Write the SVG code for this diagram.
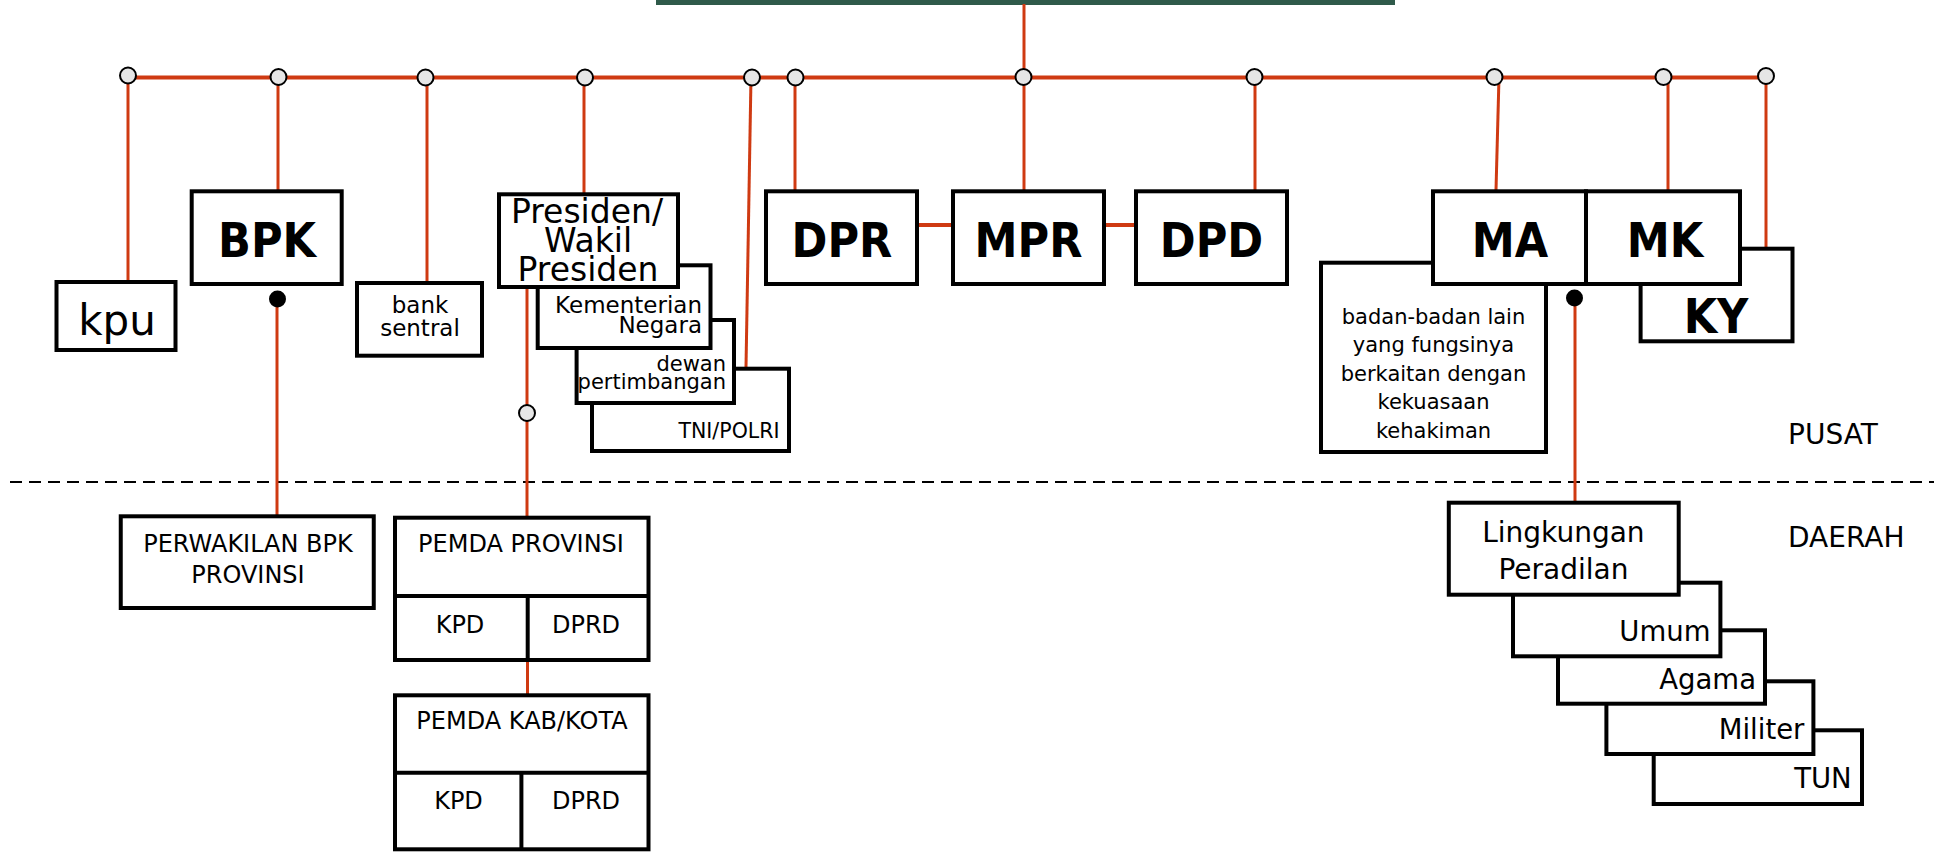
<svg xmlns="http://www.w3.org/2000/svg" width="1934" height="852" viewBox="0 0 1934 852">
<style>
.box{fill:#fff;stroke:#000;stroke-width:4}
.ln{stroke:#CF3A12;stroke-width:3;fill:none}
.hl{stroke:#CF3A12;stroke-width:4;fill:none}
.oc{fill:#E6E6E6;stroke:#000;stroke-width:2}
.fc{fill:#000}
.dv{stroke:#000;stroke-width:4}
text{font-family:"DejaVu Sans",Verdana,sans-serif;fill:#000}
.b{font-family:"DejaVu Sans Condensed","DejaVu Sans",sans-serif;font-weight:bold;font-size:48px;text-anchor:middle}
.c{text-anchor:middle}
.e{text-anchor:end}
</style>
<rect x="0" y="0" width="1934" height="852" fill="#fff"/>
<rect id="top-bar" x="656" y="-10" width="739" height="15" fill="#2F5A4A"/>
<line x1="10" y1="482" x2="1934" y2="482" stroke="#000" stroke-width="2" stroke-dasharray="12 7"/>
<g id="connectors">
<line class="hl" x1="128" y1="77.5" x2="1766" y2="77.5"/>
<line class="ln" x1="1024" y1="4" x2="1024" y2="190"/>
<line class="ln" x1="128" y1="77" x2="128" y2="281"/>
<line class="ln" x1="278" y1="77" x2="278" y2="190"/>
<line class="ln" x1="427" y1="77" x2="427" y2="282"/>
<line class="ln" x1="584" y1="77" x2="584" y2="193"/>
<line class="ln" x1="751" y1="77" x2="746" y2="367"/>
<line class="ln" x1="795" y1="77" x2="795" y2="190"/>
<line class="ln" x1="1255" y1="77" x2="1255" y2="190"/>
<line class="ln" x1="1499" y1="77" x2="1496" y2="190"/>
<line class="ln" x1="1668" y1="77" x2="1668" y2="190"/>
<line class="ln" x1="1766" y1="77" x2="1766" y2="248"/>
<line class="hl" x1="919" y1="225" x2="951" y2="225"/>
<line class="hl" x1="1106" y1="225" x2="1134" y2="225"/>
<line class="ln" x1="277" y1="299" x2="277" y2="515"/>
<line class="ln" x1="527" y1="289" x2="527" y2="516"/>
<line class="ln" x1="527.5" y1="662" x2="527.5" y2="694"/>
<line class="ln" x1="1575" y1="298" x2="1575" y2="501"/>
<circle class="oc" cx="128" cy="75.5" r="8"/>
<circle class="oc" cx="278.5" cy="77" r="8"/>
<circle class="oc" cx="425.5" cy="77.5" r="8"/>
<circle class="oc" cx="585" cy="77.5" r="8"/>
<circle class="oc" cx="752" cy="77.5" r="8"/>
<circle class="oc" cx="795.5" cy="77.5" r="8"/>
<circle class="oc" cx="1023.5" cy="77" r="8"/>
<circle class="oc" cx="1254.5" cy="77" r="8"/>
<circle class="oc" cx="1494.5" cy="77" r="8"/>
<circle class="oc" cx="1663.5" cy="77" r="8"/>
<circle class="oc" cx="1766" cy="76" r="8"/>
<circle class="oc" cx="527" cy="413" r="8"/>
<circle class="fc" cx="277.5" cy="299" r="8.5"/>
<circle class="fc" cx="1574.5" cy="298" r="8.5"/>
</g>
<g id="kpu"><rect class="box" x="56.5" y="282" width="119" height="68"/><text class="c" x="117" y="335" font-size="42">kpu</text></g>
<g id="bpk"><rect class="box" x="191.7" y="191.3" width="150" height="92.7"/><text class="b" x="267" y="257">BPK</text></g>
<g id="bank-sentral"><rect class="box" x="357" y="283" width="125" height="72.7"/><text class="c" x="420" y="312.7" font-size="23">bank</text><text class="c" x="420" y="336" font-size="23">sentral</text></g>
<g id="tni-polri"><rect class="box" x="592" y="368.7" width="197" height="82.3"/><text class="e" x="779.5" y="438" font-size="20.5">TNI/POLRI</text></g>
<g id="dewan-pertimbangan"><rect class="box" x="576.6" y="320" width="157.4" height="83"/><text class="e" x="726" y="371" font-size="21">dewan</text><text class="e" x="726" y="389" font-size="21">pertimbangan</text></g>
<g id="kementerian-negara"><rect class="box" x="537.7" y="265.3" width="172.8" height="82.7"/><text class="e" x="702" y="312.7" font-size="23">Kementerian</text><text class="e" x="702" y="333" font-size="23">Negara</text></g>
<g id="presiden"><rect class="box" x="499" y="194.3" width="179" height="92.7"/><text class="c" x="587" y="222.7" font-size="33">Presiden/</text><text class="c" x="588" y="251.7" font-size="33">Wakil</text><text class="c" x="588" y="281" font-size="33">Presiden</text></g>
<g id="dpr"><rect class="box" x="766" y="191.3" width="151" height="92.7"/><text class="b" x="842" y="257">DPR</text></g>
<g id="mpr"><rect class="box" x="953" y="191.3" width="151" height="92.7"/><text class="b" x="1028.5" y="257">MPR</text></g>
<g id="dpd"><rect class="box" x="1136" y="191.3" width="151" height="92.7"/><text class="b" x="1211.5" y="257">DPD</text></g>
<g id="badan-lain"><rect class="box" x="1321" y="262.7" width="225" height="189.3"/>
<text class="c" x="1433.5" y="323.5" font-size="21">badan-badan lain</text>
<text class="c" x="1433.5" y="352" font-size="21">yang fungsinya</text>
<text class="c" x="1433.5" y="380.5" font-size="21">berkaitan dengan</text>
<text class="c" x="1433.5" y="409" font-size="21">kekuasaan</text>
<text class="c" x="1433.5" y="437.5" font-size="21">kehakiman</text></g>
<g id="ky"><rect class="box" x="1640.6" y="248.7" width="151.9" height="92.6"/><text class="b" x="1716" y="333">KY</text></g>
<g id="ma"><rect class="box" x="1433" y="191.3" width="153" height="92.7"/><text class="b" x="1510" y="257">MA</text></g>
<g id="mk"><rect class="box" x="1586" y="191.3" width="154" height="92.7"/><text class="b" x="1665" y="257">MK</text></g>
<g id="labels"><text x="1788" y="444" font-size="28">PUSAT</text><text x="1788" y="546.7" font-size="28">DAERAH</text></g>
<g id="perwakilan-bpk"><rect class="box" x="120.75" y="516.3" width="253" height="91.7"/><text class="c" x="248" y="551.7" font-size="24">PERWAKILAN BPK</text><text class="c" x="248" y="583.3" font-size="24">PROVINSI</text></g>
<g id="pemda-provinsi"><rect class="box" x="395" y="517.7" width="253.5" height="142.3"/><line class="dv" x1="395" y1="596" x2="648.5" y2="596"/><line class="dv" x1="527.7" y1="596" x2="527.7" y2="660"/>
<text class="c" x="521" y="551.7" font-size="24">PEMDA PROVINSI</text><text class="c" x="460" y="632.7" font-size="24">KPD</text><text class="c" x="586" y="632.7" font-size="24">DPRD</text></g>
<g id="pemda-kab-kota"><rect class="box" x="395" y="695.3" width="253.5" height="154"/><line class="dv" x1="395" y1="772.7" x2="648.5" y2="772.7"/><line class="dv" x1="521.4" y1="772.7" x2="521.4" y2="849.3"/>
<text class="c" x="522" y="729.3" font-size="24">PEMDA KAB/KOTA</text><text class="c" x="458.5" y="809.3" font-size="24">KPD</text><text class="c" x="586" y="809.3" font-size="24">DPRD</text></g>
<g id="tun"><rect class="box" x="1653.7" y="730.3" width="208.3" height="73.7"/><text class="e" x="1851.7" y="787.7" font-size="27.5">TUN</text></g>
<g id="militer"><rect class="box" x="1606.4" y="681.3" width="207" height="72.7"/><text class="e" x="1804.4" y="739.3" font-size="27.5">Militer</text></g>
<g id="agama"><rect class="box" x="1558" y="630.3" width="207" height="73.4"/><text class="e" x="1756" y="689.3" font-size="27.5">Agama</text></g>
<g id="umum"><rect class="box" x="1513" y="582.7" width="207.4" height="73.6"/><text class="e" x="1710.5" y="641" font-size="27.5">Umum</text></g>
<g id="lingkungan-peradilan"><rect class="box" x="1448.8" y="502.7" width="229.9" height="92"/><text class="c" x="1563.4" y="541.7" font-size="28">Lingkungan</text><text class="c" x="1563.4" y="579.3" font-size="28">Peradilan</text></g>
</svg>
